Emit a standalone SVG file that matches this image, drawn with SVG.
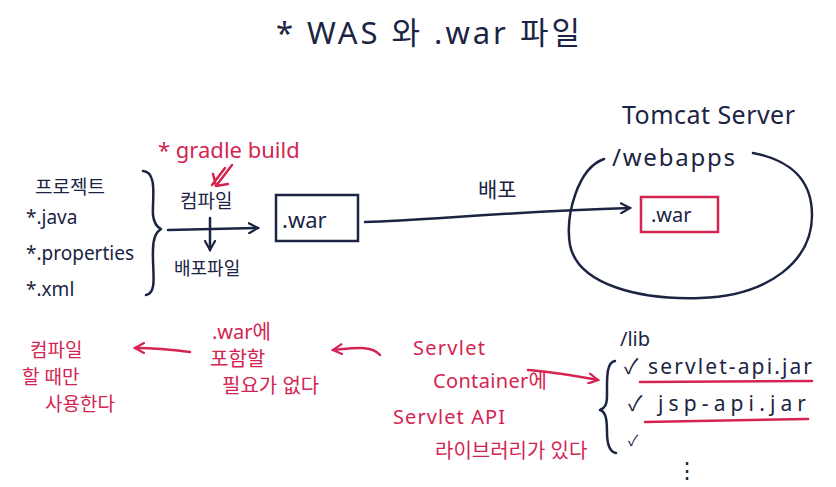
<svg xmlns="http://www.w3.org/2000/svg" width="836" height="487" viewBox="0 0 836 487">
<defs>
<style>
.n{fill:#1b2443;font-family:"Noto Sans","Noto Sans CJK KR",sans-serif;}
.p{fill:#d42552;font-family:"Noto Sans","Noto Sans CJK KR",sans-serif;}
.ln{fill:none;stroke:#1b2443;stroke-width:2.5;stroke-linecap:round;stroke-linejoin:round;}
.lp{fill:none;stroke:#d42552;stroke-width:2.5;stroke-linecap:round;stroke-linejoin:round;}
</style>
<marker id="an" viewBox="0 0 12 12" refX="10" refY="6" markerWidth="12" markerHeight="12" markerUnits="userSpaceOnUse" orient="auto"><path d="M1,1 L10,6 L1,11" fill="none" stroke="#1b2443" stroke-width="2.2" stroke-linecap="round"/></marker>
<marker id="ap" viewBox="0 0 12 12" refX="10" refY="6" markerWidth="12" markerHeight="12" markerUnits="userSpaceOnUse" orient="auto"><path d="M1,1 L10,6 L1,11" fill="none" stroke="#d42552" stroke-width="2.2" stroke-linecap="round"/></marker>
</defs>
<rect width="836" height="487" fill="#fff"/>
<g id="title"><text class="n" x="276" y="44" font-size="31" textLength="304" lengthAdjust="spacing">* WAS 와 .war 파일</text></g>

<g id="project">
<text class="n" x="35" y="194" font-size="19">프로젝트</text>
<text class="n" x="26" y="224" font-size="19">*.java</text>
<text class="n" x="26" y="260" font-size="19">*.properties</text>
<text class="n" x="26" y="296" font-size="19">*.xml</text>
<path class="ln" d="M143,171 C158,172 152,200 153,215 C154,224 157,227 161,229 C156,232 153,238 153,250 C152,270 158,293 146,295"/>
</g>

<g id="gradle">
<text class="p" x="158" y="158" font-size="22">* gradle build</text>
<path class="lp" d="M232,165 L216,186 M213,174 L216,186 L228,184 M225,168 L212,185"/>
</g>

<g id="compile">
<text class="n" x="180" y="208" font-size="19">컴파일</text>
<text class="n" x="174" y="275" font-size="18">배포파일</text>
</g>

<g id="war1">
<rect x="276" y="195" width="82" height="46" fill="none" stroke="#1b2443" stroke-width="2.5"/>
<text class="n" x="282" y="228" font-size="22">.war</text>
</g>

<g id="tomcat">
<text class="n" x="622" y="124" font-size="25" textLength="173" lengthAdjust="spacing">Tomcat Server</text>
<text class="n" x="612" y="166" font-size="24" textLength="123" lengthAdjust="spacing">/webapps</text>
<path class="ln" d="M604,159 C578,168 565,215 570,245 C578,285 640,300 700,298 C770,296 812,260 812,215 C812,180 790,160 753,153"/>
</g>

<g id="war2">
<rect x="641" y="197" width="77" height="35" fill="none" stroke="#d42552" stroke-width="2.5"/>
<text class="n" x="651" y="222" font-size="20">.war</text>
</g>

<g id="notes">
<text class="p" x="30" y="357" font-size="19">컴파일</text>
<text class="p" x="22" y="384" font-size="19">할 때만</text>
<text class="p" x="45" y="411" font-size="19">사용한다</text>
<text class="p" x="212" y="339" font-size="20">.war에</text>
<text class="p" x="210" y="366" font-size="20">포함할</text>
<text class="p" x="222" y="393" font-size="20">필요가 없다</text>
<text class="p" x="413" y="355" font-size="20" textLength="72" lengthAdjust="spacing">Servlet</text>
<text class="p" x="433" y="388" font-size="20" textLength="114" lengthAdjust="spacing">Container에</text>
<text class="p" x="393" y="424" font-size="20" textLength="112" lengthAdjust="spacing">Servlet API</text>
<text class="p" x="435" y="458" font-size="20">라이브러리가 있다</text>
</g>

<g id="lib">
<text class="n" x="620" y="346" font-size="20">/lib</text>
<text class="n" x="624" y="374" font-size="21" textLength="188" lengthAdjust="spacing">✓ servlet-api.jar</text>
<text class="n" x="628" y="411" font-size="21" textLength="178" lengthAdjust="spacing">✓ jsp-api.jar</text>
<text class="n" x="628" y="446" font-size="15">✓</text>
<text class="n" x="676" y="478" font-size="22">⋮</text>
<path class="lp" d="M640,382 L812,381 M645,422 L808,419"/>
<path class="ln" d="M615,361 C606,362 607,380 607,395 C607,405 605,408 600,410 C606,412 607,420 607,432 C607,446 610,452 616,453"/>
</g>

<g id="connectors">
<path class="ln" d="M168,230 L258,228" marker-end="url(#an)"/>
<path class="ln" d="M210,218 L210,250" marker-end="url(#an)"/>
<path class="ln" d="M365,222 C430,220 500,212 630,208" marker-end="url(#an)"/>
<text class="n" x="478" y="197" font-size="21">배포</text>
<path class="lp" d="M190,352 C175,350 160,348 135,348" marker-end="url(#ap)"/>
<path class="lp" d="M380,355 C372,345 355,348 333,350" marker-end="url(#ap)"/>
<path class="lp" d="M528,370 C555,372 575,376 598,380" marker-end="url(#ap)"/>
</g>
</svg>
